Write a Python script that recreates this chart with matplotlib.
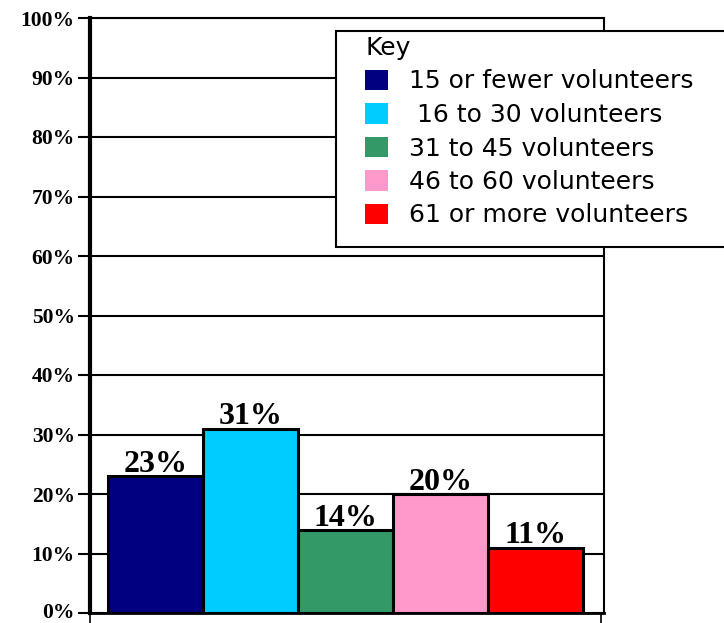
import matplotlib.pyplot as plt
import matplotlib.transforms as mtransforms
from matplotlib.patches import Rectangle, Patch

categories = ["15 or fewer volunteers", " 16 to 30 volunteers", "31 to 45 volunteers",
              "46 to 60 volunteers", "61 or more volunteers"]
values = [23, 31, 14, 20, 11]
colors = ["#000080", "#00CCFF", "#339966", "#FF99CC", "#FF0000"]
yticks = [0, 10, 20, 30, 40, 50, 60, 70, 80, 90, 100]

W, H = 724, 623
fig = plt.figure(figsize=(W / 100, H / 100), dpi=100)
ax = fig.add_axes([90 / W, 1 - 613 / H, (604 - 90) / W, (613 - 18) / H])

x = list(range(len(values)))
ax.bar(x, values, width=1.0, color=colors, edgecolor="black", linewidth=2.2, zorder=3)

for xi, v in zip(x, values):
    ax.annotate(f"{v}%", (xi, v), xytext=(0, 3), textcoords="offset points",
                ha="center", va="baseline", fontsize=23, fontweight="bold",
                family="Liberation Serif", zorder=4)

ax.set_xlim(-0.69, 4.72)
ax.set_ylim(0, 100)
ax.set_yticks(yticks)
ax.set_yticklabels([f"{t}%" for t in yticks], fontsize=15.5, fontweight="bold",
                   family="Liberation Serif")
ax.tick_params(axis="y", direction="out", length=9, width=1.5, pad=2)
ax.set_xticks([-0.69, 4.69])
ax.set_xticklabels([])
ax.tick_params(axis="x", direction="out", length=7, width=1.2)
ax.grid(axis="y", color="black", linewidth=1.5, zorder=1)
ax.set_axisbelow(True)

# keep the bottom "0%" inside the canvas
lab0 = ax.get_yticklabels()[0]
lab0.set_transform(lab0.get_transform() + mtransforms.ScaledTranslation(0, 3 / 100, fig.dpi_scale_trans))

ax.spines["left"].set_linewidth(3)
ax.spines["bottom"].set_linewidth(2)
ax.spines["right"].set_linewidth(1.5)
ax.spines["top"].set_linewidth(1.5)

# legend box (runs off the right edge)
fig.patches.append(Rectangle((336 / W, 1 - 247 / H), 420 / W, (247 - 31) / H,
                             transform=fig.transFigure, facecolor="white",
                             edgecolor="black", linewidth=1.5, zorder=5))
handles = [Patch(facecolor=c, edgecolor="none") for c in colors]
leg = fig.legend(handles, categories, loc="upper left", bbox_to_anchor=(345 / W, 1 - 16 / H),
                 frameon=False, title="Key", alignment="left",
                 prop={"family": "DejaVu Sans", "size": 18},
                 title_fontproperties={"family": "DejaVu Sans", "size": 18},
                 handlelength=0.9, handleheight=0.9, handletextpad=0.85,
                 labelspacing=0.38, borderpad=0.3)
leg.set_zorder(6)

fig.savefig("out.png", dpi=100)
